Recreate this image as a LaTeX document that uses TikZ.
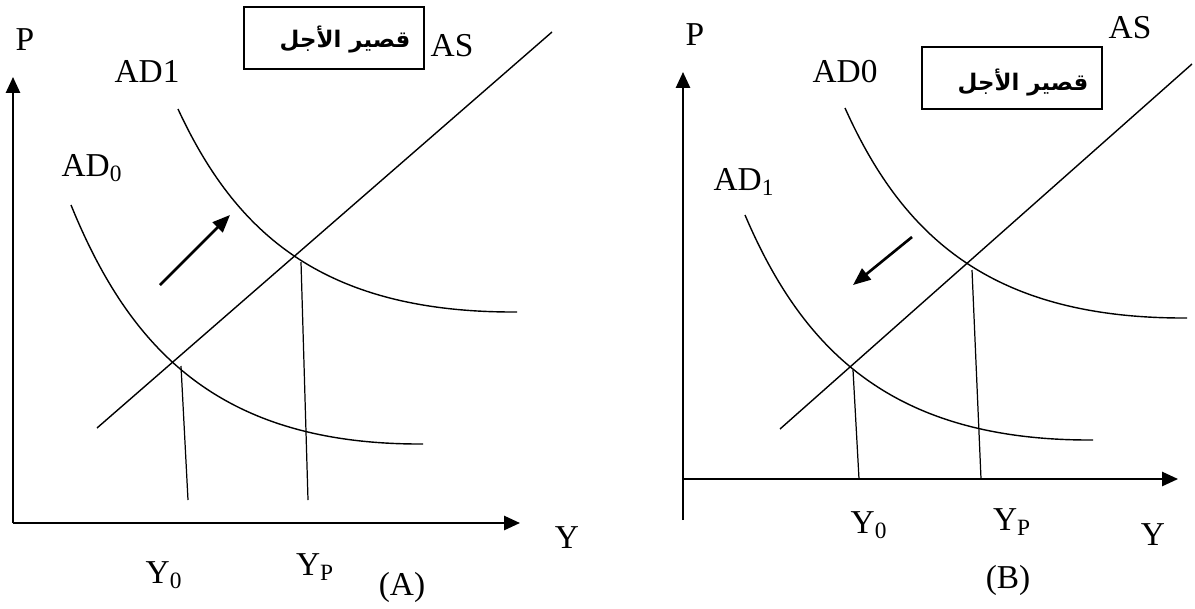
\documentclass[tikz,border=0pt]{standalone}
\usepackage{fontspec}
\setmainfont{Liberation Serif}
\newfontfamily\arabicfont[Script=Arabic]{DejaVu Sans}
\TeXXeTstate=1
\usetikzlibrary{arrows.meta}
\newcommand{\shortrun}{\beginR قصير الأجل\endR}

\begin{document}
\begin{tikzpicture}[
    x=0.02cm, y=-0.02cm,
    axis/.style={line width=1.2pt,-{Triangle[length=9pt,width=8pt]}},
    demand/.style={line width=0.8pt},
    guide/.style={line width=0.7pt},
    move/.style={line width=1.5pt,-{Triangle[length=10pt,width=8pt]}},
    lab/.style={font=\fontsize{19}{21}\selectfont,inner sep=0pt},
    box/.style={draw,line width=0.8pt,minimum width=3.6cm,minimum height=1.24cm},
    arab/.style={font=\fontsize{13}{15}\selectfont\arabicfont\bfseries,inner sep=0pt}
  ]
    \useasboundingbox (0,0) rectangle (1195,608);

    % panel A
    \coordinate (oA) at (13,523);
    \coordinate (pA) at (13,77);
    \coordinate (yA) at (520,523);
    \draw[axis] (oA) -- (pA);
    \draw[axis] (oA) -- (yA);
    \draw[demand] (97,428) -- (552,32);
    \draw[demand] (71,205) .. controls (130,350) and (220,445) .. (423,444);
    \draw[demand] (178,109) .. controls (235,232) and (322,313) .. (517,312);
    \draw[guide] (181,366) -- (188,500);
    \draw[guide] (301,262) -- (308,500);
    \draw[move] (160,285) -- (230,215);
    \node[box] (boxA) at (334,38) {};
    \node[arab] (runA) at (345,40) {\shortrun};
    \node[lab] (PA) at (25,40) {P};
    \node[lab] (ad1A) at (147,72) {AD1};
    \node[lab] (ad0A) at (92,168) {AD\textsubscript{0}};
    \node[lab] (asA) at (452,46) {AS};
    \node[lab] (y0A) at (164,575) {Y\textsubscript{0}};
    \node[lab] (ypA) at (315,567) {Y\textsubscript{P}};
    \node[lab] (capA) at (402,587) {(A)};
    \node[lab] (YA) at (567,538) {Y};

    % panel B
    \coordinate (oB) at (683,479);
    \coordinate (pB) at (683,72);
    \coordinate (yB) at (1178,479);
    \draw[axis] (683,520) -- (pB);
    \draw[axis] (oB) -- (yB);
    \draw[demand] (780,429) -- (1192,64);
    \draw[demand] (845,108) .. controls (902,235) and (990,319) .. (1187,318);
    \draw[demand] (745,215) .. controls (803,351) and (893,441) .. (1093,440);
    \draw[guide] (853,370) -- (859,479);
    \draw[guide] (972,270) -- (981,479);
    \draw[move] (912,237) -- (853,285);
    \node[box] (boxB) at (1012,78) {};
    \node[arab] (runB) at (1023,83) {\shortrun};
    \node[lab] (PB) at (695,35) {P};
    \node[lab] (ad0B) at (845,72) {AD0};
    \node[lab] (ad1B) at (744,182) {AD\textsubscript{1}};
    \node[lab] (asB) at (1130,28) {AS};
    \node[lab] (y0B) at (869,525) {Y\textsubscript{0}};
    \node[lab] (ypB) at (1012,522) {Y\textsubscript{P}};
    \node[lab] (capB) at (1008,580) {(B)};
    \node[lab] (YB) at (1153,535) {Y};
\end{tikzpicture}
\end{document}
